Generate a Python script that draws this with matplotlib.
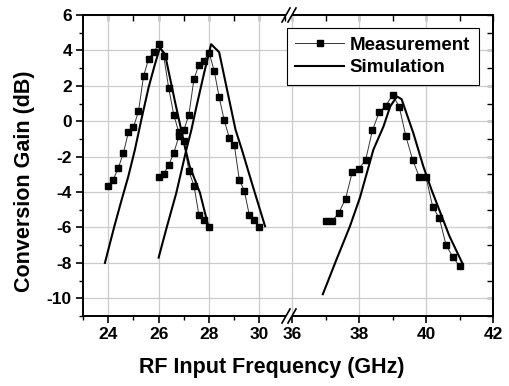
import matplotlib.pyplot as plt
from matplotlib.lines import Line2D
from matplotlib.patches import Polygon
from matplotlib.ticker import MultipleLocator, FixedLocator

plt.rcParams.update({
    'font.family': ['Liberation Sans', 'DejaVu Sans'],
    'font.weight': 'bold',
    'font.size': 12,
    'axes.linewidth': 1.4,
    'axes.unicode_minus': False,
})

# measured conversion gain, three bands below the break
meas1_f = [24.0, 24.2, 24.4, 24.6, 24.8, 25.0, 25.2, 25.4, 25.6, 25.8, 26.0,
           26.2, 26.4, 26.6, 26.8, 27.0, 27.2, 27.4, 27.6, 27.8, 28.0]
meas1_g = [-3.63, -3.3, -2.64, -1.8, -0.63, -0.33, 0.55, 2.53, 3.52, 3.9, 4.35,
           3.69, 1.87, 0.37, -0.63, -1.1, -2.83, -3.63, -5.32, -5.6, -5.96]

meas2_f = [26.0, 26.2, 26.4, 26.6, 26.8, 27.0, 27.2, 27.4, 27.6, 27.8, 28.0,
           28.2, 28.4, 28.6, 28.8, 29.0, 29.2, 29.4, 29.6, 29.8, 30.0]
meas2_g = [-3.15, -2.98, -2.47, -1.8, -0.86, -0.5, 0.37, 2.38, 3.2, 3.42, 3.88,
           2.86, 1.38, 0.05, -0.92, -1.33, -3.3, -3.95, -5.32, -5.6, -6.0]

meas3_f = [37.0, 37.2, 37.4, 37.6, 37.8, 38.0, 38.2, 38.4, 38.6, 38.8, 39.0,
           39.2, 39.4, 39.6, 39.8, 40.0, 40.2, 40.4, 40.6, 40.8, 41.0]
meas3_g = [-5.64, -5.64, -5.17, -4.37, -2.86, -2.68, -2.17, -0.52, 0.5, 0.87, 1.49,
           0.83, -0.86, -2.17, -3.15, -3.15, -4.83, -5.49, -7.0, -7.67, -8.18]

# simulated curves
sim1_f = [23.87, 24.05, 24.25, 24.54, 24.8, 25.06, 25.3, 25.6, 25.85, 26.05,
          26.25, 26.65, 27.05, 27.22, 27.64, 27.97]
sim1_g = [-8.0, -7.0, -5.9, -4.4, -3.1, -1.6, 0.0, 1.9, 3.2, 4.15,
          3.8, 1.1, -1.5, -2.5, -4.05, -5.93]

sim2_f = [26.0, 26.3, 26.7, 27.1, 27.3, 27.5, 27.8, 28.08, 28.4,
          28.77, 29.05, 29.3, 29.7, 30.22]
sim2_g = [-7.7, -6.1, -4.05, -1.6, -0.48, 0.83, 2.7, 4.35, 3.9,
          1.4, -0.48, -1.6, -3.5, -5.93]

sim3_f = [36.92, 37.33, 37.73, 38.03, 38.43, 38.73, 38.93, 39.13, 39.27,
          39.62, 39.92, 40.17, 40.7, 41.08]
sim3_g = [-9.77, -7.8, -5.93, -4.3, -1.6, -0.3, 0.83, 1.4, 1.25,
          -0.66, -2.55, -3.9, -6.49, -8.0]

W, H = 510, 386
fig = plt.figure(figsize=(W / 100, H / 100), dpi=100)
left, right, bottom, top = 83 / W, 493 / W, 1 - 316 / H, 1 - 15 / H
split = 290 / W
ax1 = fig.add_axes([left, bottom, split - left, top - bottom])
ax2 = fig.add_axes([split, bottom, right - split, top - bottom], sharey=ax1)

meas_kw = dict(color='#333333', lw=0.7, marker='s', ms=4.6,
               mfc='black', mec='black')
sim_kw = dict(color='black', lw=1.5)

ax1.plot(meas1_f, meas1_g, **meas_kw)
ax1.plot(meas2_f, meas2_g, **meas_kw)
ax1.plot(sim1_f, sim1_g, **sim_kw)
ax1.plot(sim2_f, sim2_g, **sim_kw)
ax2.plot(meas3_f, meas3_g, **meas_kw)
ax2.plot(sim3_f, sim3_g, **sim_kw)

ax1.set_xlim(23, 31.21)
ax2.set_xlim(35.94, 42)
ax1.set_ylim(-11, 6)

ax1.xaxis.set_major_locator(FixedLocator([24, 26, 28, 30]))
ax1.xaxis.set_minor_locator(FixedLocator([23, 25, 27, 29]))
ax2.xaxis.set_major_locator(FixedLocator([36, 38, 40, 42]))
ax2.xaxis.set_minor_locator(FixedLocator([37, 39, 41]))
ax1.yaxis.set_major_locator(MultipleLocator(2))
ax1.yaxis.set_minor_locator(MultipleLocator(1))

for ax in (ax1, ax2):
    ax.tick_params(which='major', direction='out', length=5, width=1.2, pad=3,
                   labelsize=12.5)
    ax.tick_params(which='minor', direction='out', length=3, width=1.0)
    ax.grid(True, which='major', color='#cccccc', lw=0.9)
    ax.set_axisbelow(True)
    top_ax = ax.secondary_xaxis('top')
    lo, hi = ax.get_xlim()
    top_ax.set_xticks([t for t in range(int(lo) + 1, int(hi) + 1)])
    top_ax.tick_params(direction='in', length=4, width=1.0, labeltop=False)
    top_ax.spines['top'].set_linewidth(1.4)

ax1.spines['right'].set_visible(False)
ax2.spines['left'].set_visible(False)
ax2.tick_params(axis='y', which='both', left=False, labelleft=False)

rax = ax2.secondary_yaxis('right')
rax.yaxis.set_major_locator(MultipleLocator(2))
rax.yaxis.set_minor_locator(MultipleLocator(1))
rax.tick_params(which='major', direction='in', length=4, width=1.0, labelright=False)
rax.tick_params(which='minor', direction='in', length=4, width=1.0)
rax.spines['right'].set_linewidth(1.4)

# axis break marks on top and bottom spines
for ypix in (15, 316):
    yc = 1 - ypix / H
    gap = Polygon([(284 / W, yc - 2 / H), (290 / W, yc - 2 / H),
                   (294 / W, yc + 2 / H), (288 / W, yc + 2 / H)],
                  closed=True, transform=fig.transFigure,
                  facecolor='white', edgecolor='none', zorder=10)
    fig.add_artist(gap)
    for xc in (286, 292):
        fig.add_artist(Line2D([(xc - 4) / W, (xc + 4) / W],
                              [yc - 7 / H, yc + 7 / H],
                              transform=fig.transFigure,
                              color='black', lw=1.2, zorder=11))

handles = [Line2D([], [], **meas_kw), Line2D([], [], **sim_kw)]
leg = fig.legend(handles, ['Measurement', 'Simulation'],
                 loc='upper left', bbox_to_anchor=(287 / W, 1 - 28 / H),
                 frameon=True, fancybox=False, edgecolor='black',
                 framealpha=1, borderpad=0.45, labelspacing=0.3,
                 handlelength=2.6, handletextpad=0.3, borderaxespad=0,
                 prop={'weight': 'bold', 'size': 13.5})
leg.get_frame().set_linewidth(0.8)

fig.text(272 / W, 1 - 368 / H, 'RF Input Frequency (GHz)',
         ha='center', va='center', fontsize=15.5, fontweight='bold')
fig.text(25 / W, 1 - 181 / H, 'Conversion Gain (dB)', rotation=90,
         ha='center', va='center', fontsize=15.5, fontweight='bold')

fig.savefig('out.png', dpi=100)
